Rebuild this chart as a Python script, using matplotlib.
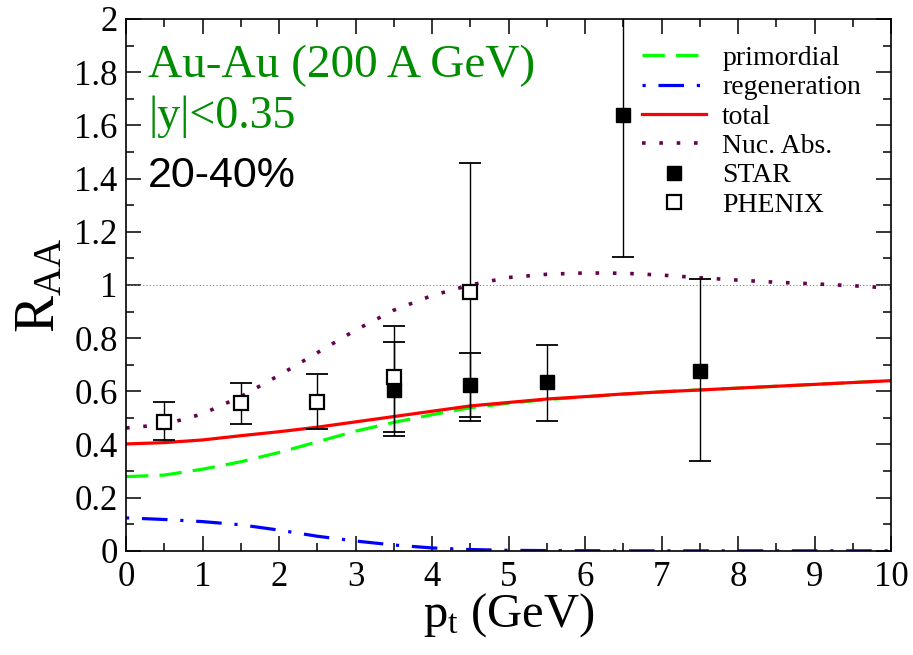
import matplotlib
matplotlib.use("Agg")
import matplotlib.pyplot as plt
from matplotlib.ticker import MultipleLocator, FormatStrFormatter

plt.rcParams['font.family'] = ['Liberation Serif', 'DejaVu Serif']
plt.rcParams['mathtext.fontset'] = 'custom'
plt.rcParams['mathtext.rm'] = 'Liberation Serif'
plt.rcParams['mathtext.it'] = 'Liberation Serif:italic'

# theory curves
pt = [0, 0.5, 1, 1.5, 2, 2.5, 3, 3.5, 4, 4.5, 5, 5.5, 6, 6.5, 7, 7.5, 8, 8.5, 9, 9.5, 10]
primordial = [0.279, 0.285, 0.307, 0.335, 0.37, 0.41, 0.45, 0.483, 0.512, 0.538, 0.555,
              0.569, 0.579, 0.589, 0.598, 0.605, 0.612, 0.619, 0.626, 0.633, 0.64]
regeneration = [0.124, 0.118, 0.11, 0.098, 0.078, 0.055, 0.037, 0.022, 0.011, 0.005, 0.002,
                0.001, 0.0005, 0, 0, 0, 0, 0, 0, 0, 0]
total = [0.402, 0.407, 0.417, 0.433, 0.448, 0.465, 0.485, 0.505, 0.525, 0.545, 0.558,
         0.571, 0.58, 0.59, 0.598, 0.605, 0.612, 0.619, 0.626, 0.633, 0.64]
nuc_abs = [0.462, 0.475, 0.515, 0.58, 0.66, 0.745, 0.83, 0.905, 0.96, 1.0, 1.028,
           1.04, 1.045, 1.044, 1.037, 1.027, 1.018, 1.01, 1.004, 0.997, 0.988]

# data points
star_x = [3.5, 4.5, 5.5, 6.5, 7.5]
star_y = [0.605, 0.624, 0.635, 1.64, 0.677]
star_lo = [0.432, 0.504, 0.488, 1.105, 0.338]
star_hi = [0.786, 0.744, 0.774, 2.2, 1.023]

phenix_x = [0.5, 1.5, 2.5, 3.5, 4.5]
phenix_y = [0.485, 0.556, 0.56, 0.654, 0.974]
phenix_lo = [0.417, 0.477, 0.459, 0.447, 0.489]
phenix_hi = [0.56, 0.633, 0.665, 0.846, 1.46]

fig = plt.figure(figsize=(9.13, 6.55), dpi=100)
ax = fig.add_axes([0.138, 0.159, 0.838, 0.812])

ax.axhline(1.0, color='gray', lw=0.8, ls=(0, (1, 2)))

ax.plot(pt, primordial, color='#00ff00', lw=2.3, ls=(0, (7, 3.5)), label='primordial')
ax.plot(pt, regeneration, color='#0000ff', lw=2.3, ls=(0, (1, 4, 8, 4)), label='regeneration')
ax.plot(pt, total, color='#ff0000', lw=2.3, label='total')
ax.plot(pt, nuc_abs, color='#67004f', lw=2.6, ls=(0, (1, 3.8)), label='Nuc. Abs.')

star_err = [[y - l for y, l in zip(star_y, star_lo)], [h - y for y, h in zip(star_y, star_hi)]]
phenix_err = [[y - l for y, l in zip(phenix_y, phenix_lo)], [h - y for y, h in zip(phenix_y, phenix_hi)]]
ax.errorbar(star_x, star_y, yerr=star_err, fmt='none', ecolor='black', elinewidth=1.0,
            capsize=8, capthick=1.3)
ax.errorbar(phenix_x, phenix_y, yerr=phenix_err, fmt='none', ecolor='black', elinewidth=1.0,
            capsize=8, capthick=1.3)
ax.plot(star_x, star_y, ls='none', marker='s', ms=10, color='black', label='STAR')
ax.plot(phenix_x, phenix_y, ls='none', marker='s', ms=10, mfc='white', mec='black',
        mew=1.6, label='PHENIX')

ax.set_xlim(0, 10)
ax.set_ylim(0, 2)
ax.xaxis.set_major_locator(MultipleLocator(1))
ax.xaxis.set_minor_locator(MultipleLocator(0.5))
ax.yaxis.set_major_locator(MultipleLocator(0.2))
ax.yaxis.set_minor_locator(MultipleLocator(0.1))
ax.yaxis.set_major_formatter(FormatStrFormatter('%g'))
ax.tick_params(which='both', direction='in', top=True, right=True, width=1.1)
ax.tick_params(which='major', length=11, labelsize=25)
ax.tick_params(which='minor', length=6)
ax.tick_params(axis='x', pad=7)
ax.tick_params(axis='y', pad=6)
for s in ax.spines.values():
    s.set_linewidth(1.2)

ax.set_xlabel(r'p$_{\mathrm{t}}$ (GeV)', fontsize=35, labelpad=-2)
ax.set_ylabel(r'R$_{\mathrm{AA}}$', fontsize=40, labelpad=6)

ax.text(0.29, 1.78, 'Au-Au (200 A GeV)', color='#008c00', fontsize=34)
ax.text(0.29, 1.59, '|y|<0.35', color='#008c00', fontsize=33)
ax.text(0.29, 1.37, '20-40%', color='black', fontsize=31, family='Liberation Sans')

ax.legend(loc='upper left', bbox_to_anchor=(0.674, 0.95), frameon=False, fontsize=20,
          handlelength=2.3, handletextpad=0.6, labelspacing=0.14, borderpad=0,
          borderaxespad=0)

fig.savefig('out.png', dpi=100)
